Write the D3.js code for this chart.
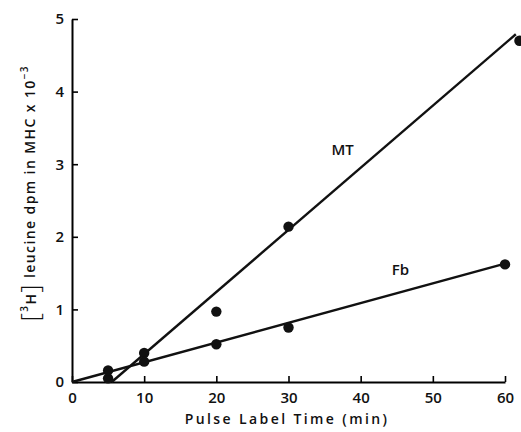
<!DOCTYPE html>
<html>
<head>
<meta charset="utf-8">
<script src="https://cdn.jsdelivr.net/npm/d3@7"></script>
<style>
  body { margin: 0; background: #fff; }
  text { font-family: "Open Sans", "DejaVu Sans", sans-serif; font-weight: 600; fill: #111; }
</style>
</head>
<body>
<div id="chart"></div>
<script>
// data
var mtTime = [5, 10, 20, 30, 62];
var mtDpm = [0.05, 0.40, 0.97, 2.14, 4.70];
var fbTime = [5, 10, 20, 30, 60];
var fbDpm = [0.16, 0.28, 0.52, 0.75, 1.62];
// fitted lines as drawn
var mtLine = [[5.5, 0], [61.5, 4.79]];
var fbLine = [[0, 0], [60, 1.63]];
var xTicks = [0, 10, 20, 30, 40, 50, 60];
var yTicks = [0, 1, 2, 3, 4, 5];

var W = 521, H = 432;
var margin = {top: 19, right: 16, bottom: 50, left: 72},
    width = 505 - margin.left,
    height = 382 - margin.top;

const svg = d3.select("#chart")
  .append("svg")
  .attr("width", W)
  .attr("height", H)
  .append("g")
  .attr("transform", `translate(${margin.left},${margin.top})`);

const x = d3.scaleLinear().domain([0, 60]).range([0, width]);
const y = d3.scaleLinear().domain([0, 5]).range([height, 0]);

// x axis, ticks pointing in
svg.append("g")
  .attr("transform", `translate(0,${height})`)
  .call(d3.axisBottom(x).tickValues(xTicks).tickFormat(d3.format("d"))
    .tickSizeInner(-6).tickSizeOuter(0).tickPadding(10))
  .call(g => g.select(".domain").attr("stroke-width", 2))
  .call(g => g.selectAll(".tick line").attr("stroke-width", 1.6))
  .call(g => g.selectAll(".tick text").style("font-size", "15px"));

// y axis
svg.append("g")
  .call(d3.axisLeft(y).tickValues(yTicks).tickFormat(d3.format("d"))
    .tickSizeInner(-6).tickSizeOuter(0).tickPadding(8))
  .call(g => g.select(".domain").attr("stroke-width", 2))
  .call(g => g.selectAll(".tick line").attr("stroke-width", 1.6))
  .call(g => g.selectAll(".tick text").style("font-size", "15px"));

// lines
var line = d3.line().x(d => x(d[0])).y(d => y(d[1]));
svg.append("path").datum(mtLine).attr("d", line)
  .attr("fill", "none").attr("stroke", "#111").attr("stroke-width", 2.4);
svg.append("path").datum(fbLine).attr("d", line)
  .attr("fill", "none").attr("stroke", "#111").attr("stroke-width", 2.4);

// points
svg.selectAll(".mt")
  .data(mtTime)
  .join("circle")
  .attr("cx", d => x(d))
  .attr("cy", (d, i) => y(mtDpm[i]))
  .attr("r", 5.2)
  .attr("fill", "#111");

svg.selectAll(".fb")
  .data(fbTime)
  .join("circle")
  .attr("cx", d => x(d))
  .attr("cy", (d, i) => y(fbDpm[i]))
  .attr("r", 5.2)
  .attr("fill", "#111");

// series labels
svg.append("text")
  .attr("x", x(37.5)).attr("y", y(3.12))
  .attr("text-anchor", "middle")
  .style("font-size", "15px")
  .text("MT");
svg.append("text")
  .attr("x", x(45.5)).attr("y", y(1.47))
  .attr("text-anchor", "middle")
  .style("font-size", "15px")
  .text("Fb");

// x axis title
svg.append("text")
  .attr("x", x(29.8)).attr("y", height + 42)
  .attr("text-anchor", "middle")
  .style("font-size", "14px")
  .style("letter-spacing", "2.4px")
  .text("Pulse Label Time (min)");

// y axis title
var yt = svg.append("text")
  .attr("transform", `translate(-37,${y(2.6)}) rotate(-90)`)
  .attr("text-anchor", "middle")
  .style("font-size", "14px")
  .style("letter-spacing", "1.4px");
yt.append("tspan").style("font-size", "26px").style("font-weight", "300").attr("dy", "4").text("[");
yt.append("tspan").style("font-size", "10px").attr("dy", "-11").text("3");
yt.append("tspan").attr("dy", "8").text("H");
yt.append("tspan").style("font-size", "26px").style("font-weight", "300").attr("dy", "3").text("]");
yt.append("tspan").attr("dy", "-4").text(" leucine dpm in MHC x 10");
yt.append("tspan").style("font-size", "10px").attr("dy", "-7").text("−3");
</script>
</body>
</html>
